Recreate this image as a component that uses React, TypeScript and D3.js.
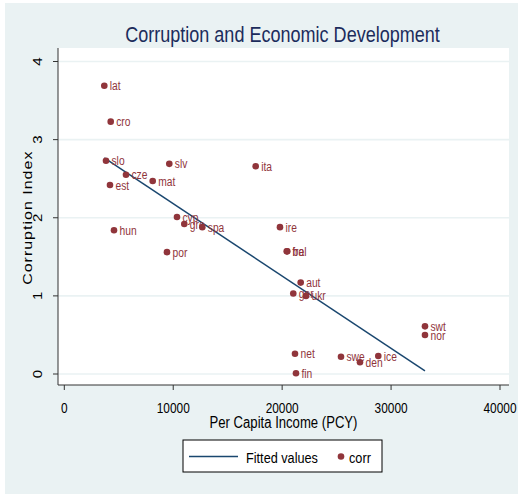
import React from "react";
import * as d3 from "d3";

// Country codes with per capita income and corruption index
const countries = [
  "lat", "cro", "slo", "cze", "est", "mat", "slv", "ita", "hun", "cyp",
  "gre", "spa", "por", "ire", "bel", "fra", "aut", "ger", "ukr", "net",
  "fin", "swe", "den", "ice", "swt", "nor",
];
const pcy = [
  3672, 4260, 3828, 5664, 4195, 8115, 9639, 17571, 4563, 10346,
  11016, 12669, 9428, 19802, 20472, 20420, 21702, 21022, 22189, 21179,
  21270, 25402, 27146, 28826, 33113, 33113,
];
const corr = [
  3.69, 3.23, 2.73, 2.55, 2.42, 2.47, 2.69, 2.66, 1.84, 2.01,
  1.92, 1.88, 1.56, 1.88, 1.57, 1.57, 1.17, 1.03, 1.0, 0.26,
  0.01, 0.22, 0.15, 0.23, 0.61, 0.5,
];

// Linear fit endpoints (over the observed income range)
const fittedPcy = [3672, 33113];
const fittedCorr = [2.766, 0.04];

const xTicks = [0, 10000, 20000, 30000, 40000];
const yTicks = [0, 1, 2, 3, 4];

const W = 518;
const H = 497;
const BG = "#eaf2f3";
const MARKER = "#90353b";
const FIT = "#1a476f";
const SX = 0.82; // narrow glyph rendering

const plot = { left: 58, right: 509, top: 48, bottom: 385 };

function HText(props: {
  x: number;
  y: number;
  size: number;
  anchor?: string;
  fill?: string;
  children: React.ReactNode;
}) {
  const { x, y, size, anchor = "start", fill = "#000", children } = props;
  return (
    <text
      transform={`translate(${x},${y}) scale(${SX},1)`}
      fontSize={size}
      textAnchor={anchor}
      fill={fill}
    >
      {children}
    </text>
  );
}

function VText(props: {
  x: number;
  y: number;
  size: number;
  spacing?: number;
  children: React.ReactNode;
}) {
  const { x, y, size, spacing = 0, children } = props;
  return (
    <text
      transform={`translate(${x},${y}) rotate(-90) scale(1,${SX})`}
      fontSize={size}
      textAnchor="middle"
      letterSpacing={spacing}
      fill="#000"
    >
      {children}
    </text>
  );
}

export default function App() {
  const x = d3.scaleLinear().domain([0, 40000]).range([64.3, 500]);
  const y = d3.scaleLinear().domain([0, 4]).range([374, 61.5]);

  const fitPts: [number, number][] = fittedPcy.map((v, i) => [v, fittedCorr[i]]);
  const fitPath =
    d3
      .line<[number, number]>()
      .x((d) => x(d[0]))
      .y((d) => y(d[1]))(fitPts) || "";

  const pts = countries.map((c, i) => ({ c, px: x(pcy[i]), py: y(corr[i]) }));
  const cx = (plot.left + plot.right) / 2;

  return (
    <svg
      width={W}
      height={H}
      style={{ position: "absolute", left: 0, top: 0 }}
      fontFamily="'Liberation Sans', Arial, sans-serif"
    >
      <rect x={0} y={0} width={W} height={H} fill="#fff" />
      <rect x={5} y={3} width={W - 5} height={491} fill={BG} />
      <rect
        x={plot.left}
        y={plot.top}
        width={plot.right - plot.left}
        height={plot.bottom - plot.top}
        fill="#fff"
      />

      {/* gridlines */}
      {yTicks.map((t) => (
        <line
          key={`g${t}`}
          x1={plot.left}
          x2={plot.right}
          y1={y(t)}
          y2={y(t)}
          stroke={BG}
          strokeWidth={1.6}
        />
      ))}

      {/* axes */}
      <line x1={plot.left} x2={plot.left} y1={plot.top} y2={plot.bottom} stroke="#333" strokeWidth={1} />
      <line x1={plot.left} x2={plot.right} y1={plot.bottom} y2={plot.bottom} stroke="#333" strokeWidth={1} />

      {yTicks.map((t) => (
        <g key={`yt${t}`}>
          <line x1={plot.left - 5} x2={plot.left} y1={y(t)} y2={y(t)} stroke="#333" />
          <VText x={42} y={y(t)} size={15}>
            {t}
          </VText>
        </g>
      ))}
      {xTicks.map((t) => (
        <g key={`xt${t}`}>
          <line x1={x(t)} x2={x(t)} y1={plot.bottom} y2={plot.bottom + 5} stroke="#333" />
          <HText x={x(t)} y={413} size={14.5} anchor="middle">
            {t}
          </HText>
        </g>
      ))}

      <HText x={cx} y={427.5} size={16} anchor="middle">
        Per Capita Income (PCY)
      </HText>
      <VText x={31.5} y={(y(0) + y(4)) / 2} size={16} spacing={1}>
        Corruption Index
      </VText>

      <HText x={282.5} y={42} size={22} anchor="middle" fill="#1c2c5c">
        Corruption and Economic Development
      </HText>

      {/* fitted line */}
      <path d={fitPath} fill="none" stroke={FIT} strokeWidth={1.5} />

      {/* point labels then markers */}
      {pts.map((p) => (
        <HText key={`l${p.c}`} x={p.px + 5.5} y={p.py + 4.6} size={12.5} fill={MARKER}>
          {p.c}
        </HText>
      ))}
      {pts.map((p) => (
        <circle key={`m${p.c}`} cx={p.px} cy={p.py} r={3.3} fill={MARKER} />
      ))}

      {/* legend */}
      <rect x={183} y={440} width={199} height={32} fill="#fff" stroke="#000" strokeWidth={1} />
      <line x1={189} x2={238} y1={456.5} y2={456.5} stroke={FIT} strokeWidth={1.5} />
      <HText x={246} y={462.5} size={15.5}>
        Fitted values
      </HText>
      <circle cx={341} cy={456.5} r={3.3} fill={MARKER} />
      <HText x={349} y={462.5} size={15.5}>
        corr
      </HText>
    </svg>
  );
}
